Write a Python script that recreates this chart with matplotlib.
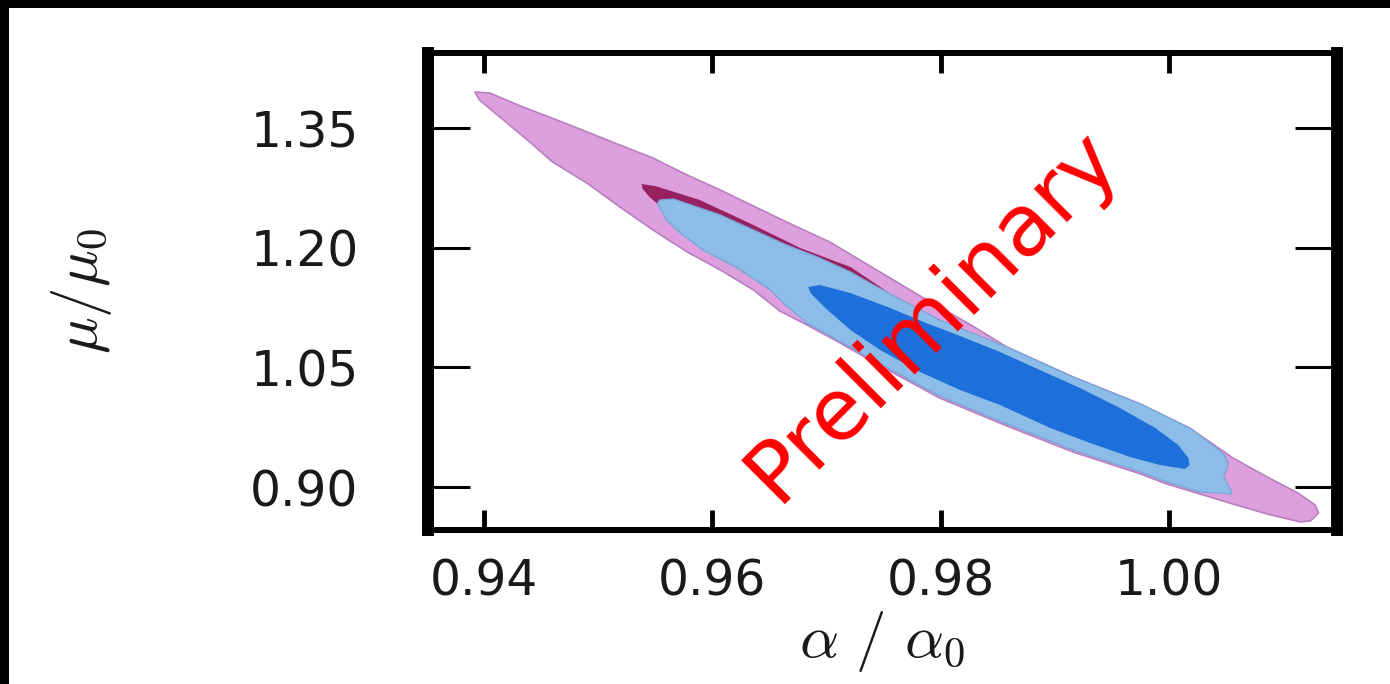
import matplotlib
matplotlib.use("Agg")
import matplotlib.pyplot as plt
from matplotlib.patches import Rectangle

plt.rcParams['mathtext.fontset'] = 'cm'
plt.rcParams['font.family'] = ['DejaVu Sans']

# ---- data: contour outlines (alpha/alpha0, mu/mu0) ----
pink_outer_x = [0.9392, 0.9405, 0.9432, 0.9475, 0.9519, 0.9548, 0.9578, 0.9607, 0.9636, 0.9665,
                0.9703, 0.9741, 0.9785, 0.9828, 0.9858, 0.9916, 0.9975, 1.0018, 1.0056, 1.0086,
                1.0113, 1.0128, 1.0131, 1.0124, 1.0115, 1.0086, 1.0056, 1.0027, 0.9998, 0.9975,
                0.9916, 0.9858, 0.9799, 0.9741, 0.9712, 0.9683, 0.9659, 0.9636, 0.9607, 0.9578,
                0.9548, 0.9519, 0.9490, 0.9460, 0.9438, 0.9417, 0.9396]
pink_outer_y = [1.3951, 1.3939, 1.3776, 1.3538, 1.3287, 1.3124, 1.2911, 1.2723, 1.2523, 1.2322,
                1.2071, 1.1746, 1.1370, 1.1019, 1.0756, 1.0380, 1.0041, 0.9741, 0.9365, 0.9127,
                0.8926, 0.8776, 0.8676, 0.8576, 0.8563, 0.8663, 0.8788, 0.8914, 0.9039, 0.9165,
                0.9440, 0.9766, 1.0117, 1.0568, 1.0806, 1.1031, 1.1207, 1.1470, 1.1721, 1.1946,
                1.2222, 1.2510, 1.2811, 1.3074, 1.3350, 1.3600, 1.3851]

pink_inner_x = [0.9538, 0.9550, 0.9589, 0.9636, 0.9677, 0.9721, 0.9738, 0.9764, 0.9808, 0.9852,
                0.9896, 0.9940, 0.9975, 0.9983, 0.9940, 0.9852, 0.9764, 0.9677, 0.9624, 0.9589,
                0.9563, 0.9545, 0.9539]
pink_inner_y = [1.2798, 1.2773, 1.2598, 1.2284, 1.1996, 1.1758, 1.1595, 1.1345, 1.0969, 1.0655,
                1.0342, 1.0029, 0.9778, 0.9590, 0.9816, 1.0280, 1.0781, 1.1345, 1.1783, 1.2097,
                1.2410, 1.2635, 1.2736]

blue_outer_x = [0.9552, 0.9554, 0.9566, 0.9607, 0.9636, 0.9665, 0.9694, 0.9721, 0.9741, 0.9799,
                0.9858, 0.9916, 0.9975, 1.0018, 1.0044, 1.0049, 1.0052, 1.0048, 1.0054, 1.0055,
                1.0027, 0.9998, 0.9975, 0.9916, 0.9858, 0.9799, 0.9741, 0.9683, 0.9665, 0.9651,
                0.9622, 0.9592, 0.9572, 0.9560, 0.9554]
blue_outer_y = [1.2560, 1.2598, 1.2610, 1.2410, 1.2222, 1.2034, 1.1871, 1.1696, 1.1533, 1.1094,
                1.0756, 1.0380, 1.0041, 0.9741, 0.9465, 0.9390, 0.9290, 0.9127, 0.8964, 0.8914,
                0.8939, 0.9064, 0.9190, 0.9465, 0.9791, 1.0142, 1.0593, 1.1056, 1.1270, 1.1470,
                1.1746, 1.1971, 1.2184, 1.2347, 1.2498]

blue_inner_x = [0.9684, 0.9694, 0.9721, 0.9756, 0.9785, 0.9817, 0.9852, 0.9887, 0.9922, 0.9957,
                0.9988, 1.0008, 1.0017, 1.0018, 1.0014, 0.9992, 0.9966, 0.9931, 0.9896, 0.9852,
                0.9817, 0.9782, 0.9747, 0.9721, 0.9699, 0.9686]
blue_inner_y = [1.1508, 1.1533, 1.1432, 1.1244, 1.1069, 1.0894, 1.0693, 1.0467, 1.0242, 0.9991,
                0.9741, 0.9528, 0.9365, 0.9277, 0.9227, 0.9277, 0.9377, 0.9553, 0.9741, 1.0029,
                1.0217, 1.0442, 1.0718, 1.0969, 1.1244, 1.1432]

x_ticks = [0.94, 0.96, 0.98, 1.00]
x_ticklabels = ['0.94', '0.96', '0.98', '1.00']
y_ticks = [0.90, 1.05, 1.20, 1.35]
y_ticklabels = ['0.90', '1.05', '1.20', '1.35']

fig = plt.figure(figsize=(13.9, 6.84), dpi=100)
fig.patch.set_facecolor('white')
ax = fig.add_axes([0.3079, 0.2251, 0.6540, 0.6974])

ax.fill(pink_outer_x, pink_outer_y, facecolor='#dd9fdd', edgecolor='#b880c0', linewidth=1.2,
        joinstyle='round', zorder=1)
ax.fill(pink_inner_x, pink_inner_y, facecolor='#962060', edgecolor='none', zorder=2)
ax.fill(blue_outer_x, blue_outer_y, facecolor='#8cbde8', edgecolor='#7aa6d8', linewidth=1.0,
        joinstyle='round', zorder=3)
ax.fill(blue_inner_x, blue_inner_y, facecolor='#1d6fd9', edgecolor='none', zorder=4)

ax.set_xlim(0.93509, 1.01472)
ax.set_ylim(0.8462, 1.4440)
ax.set_xticks(x_ticks)
ax.set_xticklabels(x_ticklabels)
ax.set_yticks(y_ticks)
ax.set_yticklabels(y_ticklabels)

for s in ['left', 'right']:
    ax.spines[s].set_linewidth(8.6)
for s in ['top', 'bottom']:
    ax.spines[s].set_linewidth(4.3)

ax.tick_params(axis='x', direction='in', top=True, bottom=True, length=14.4, width=3.5,
               pad=20, labelsize=35, labelcolor='#1a1a1a')
ax.tick_params(axis='y', direction='in', left=True, right=True, length=30, width=2.2,
               pad=50, labelsize=35, labelcolor='#1a1a1a')

ax.set_xlabel(r'$\alpha\ /\ \alpha_0$', fontsize=44, color='#1a1a1a')
ax.set_ylabel(r'$\mu/\mu_0$', fontsize=44, color='#1a1a1a')
ax.xaxis.set_label_coords(0.5, -0.165)
ax.yaxis.set_label_coords(-0.345, 0.5)

ax.text(0.5545, 0.4507, 'Preliminary', transform=ax.transAxes, rotation=45,
        rotation_mode='anchor', ha='center', va='center', color='#ff0000',
        fontsize=62, family='DejaVu Sans', zorder=10)

fig.add_artist(Rectangle((0, 0), 9 / 1390, 1, transform=fig.transFigure,
                         facecolor='black', edgecolor='none', zorder=20))
fig.add_artist(Rectangle((0, 1 - 8 / 684), 1, 8 / 684, transform=fig.transFigure,
                         facecolor='black', edgecolor='none', zorder=20))

fig.savefig('out.png', dpi=100, facecolor='white')
